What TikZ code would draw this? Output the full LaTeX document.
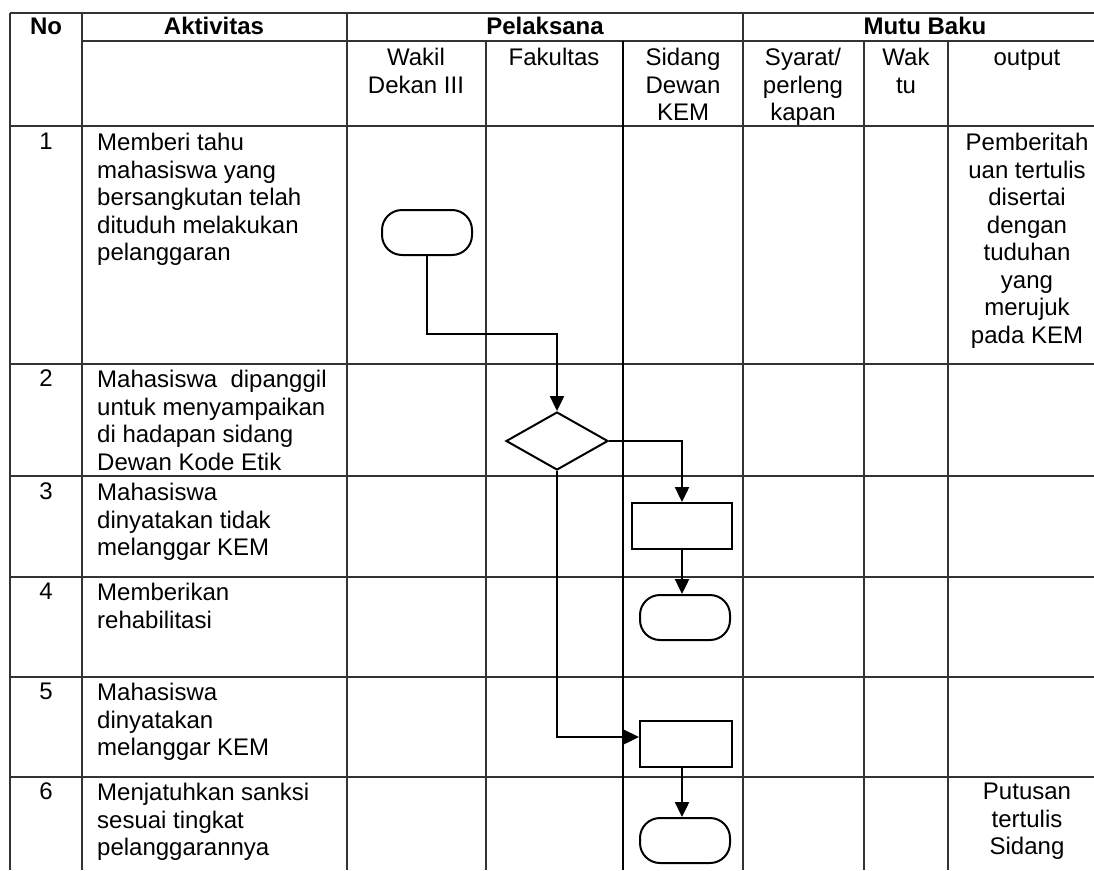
\documentclass[tikz,border=0pt]{standalone}
\usepackage{fontspec}
\setmainfont{Liberation Sans}
\usetikzlibrary{shapes.geometric,arrows.meta}

\newcommand{\isi}{\fontsize{24}{27.5}\selectfont}

\begin{document}
\begin{tikzpicture}[x=1pt, y=-1pt, font=\isi]

\tikzstyle{garis}=[line width=1.4pt, black!80]
\tikzstyle{teks}=[inner sep=0pt, anchor=north west, align=left]
\tikzstyle{tengah}=[inner sep=0pt, anchor=north, align=center]
\tikzstyle{judul}=[inner sep=0pt, anchor=base, font=\isi\bfseries]
\tikzstyle{terminal}=[draw, line width=2pt, rounded corners=20pt, minimum width=90pt, minimum height=45pt, inner sep=0pt]
\tikzstyle{proses}=[draw, line width=2pt, minimum width=100pt, minimum height=46pt, inner sep=0pt]
\tikzstyle{keputusan}=[draw, diamond, line width=2pt, minimum width=102pt, minimum height=58pt, inner sep=0pt]
\tikzstyle{alur}=[line width=2.4pt, -{Triangle[length=15pt,width=14pt]}]

\useasboundingbox (0,0) rectangle (1094,870);

% garis tabel
\draw[garis] (10,13) -- (1094,13);
\draw[garis] (82,41) -- (1094,41);
\foreach \y in {126,364,476,577,677,777}
  \draw[garis] (10,\y) -- (1094,\y);
\foreach \x in {10,82,347,743}
  \draw[garis] (\x,13) -- (\x,870);
\foreach \x in {486,864,948}
  \draw[garis] (\x,41) -- (\x,870);
\draw[garis, black, line width=1.8pt] (623,41) -- (623,870);

% kepala tabel
\node[judul] (hno) at (46,34) {No};
\node[judul] (hakt) at (214,34) {Aktivitas};
\node[judul] (hpel) at (545,34) {Pelaksana};
\node[judul] (hmutu) at (925,34) {Mutu Baku};

\node[tengah] (wadek) at (416,48) {Wakil\\Dekan III};
\node[tengah] (fak) at (554,48) {Fakultas};
\node[tengah] (sidang) at (683,48) {Sidang\\Dewan\\KEM};
\node[tengah] (syarat) at (803,48) {Syarat/\\perleng\\kapan};
\node[tengah] (waktu) at (906,48) {Wak\\tu};
\node[tengah, anchor=base] (output) at (1027,65.5) {output};

% nomor dan aktivitas
\foreach \n/\y in {1/133,2/370,3/483,4/583,5/683,6/783}
  \node[tengah] (no\n) at (46,\y) {\n};

\node[teks] (akt1) at (97,133) {Memberi tahu\\mahasiswa yang\\bersangkutan telah\\dituduh melakukan\\pelanggaran};
\node[teks] (akt2) at (97,370) {Mahasiswa~ dipanggil\\untuk menyampaikan\\di hadapan sidang\\Dewan Kode Etik};
\node[teks] (akt3) at (97,483) {Mahasiswa\\dinyatakan tidak\\melanggar KEM};
\node[teks] (akt4) at (97,583) {Memberikan\\rehabilitasi};
\node[teks] (akt5) at (97,683) {Mahasiswa\\dinyatakan\\melanggar KEM};
\node[teks] (akt6) at (97,783) {Menjatuhkan sanksi\\sesuai tingkat\\pelanggarannya};

\node[tengah] (out1) at (1027,133) {Pemberitah\\uan tertulis\\disertai\\dengan\\tuduhan\\yang\\merujuk\\pada KEM};
\node[tengah] (out6) at (1027,783) {Putusan\\tertulis\\Sidang};

% bagan alir
\node[terminal] (t1) at (427,232.5) {};
\node[keputusan] (d1) at (557,441) {};
\node[proses] (r1) at (682,526) {};
\node[terminal] (t2) at (685,617.5) {};
\node[proses, minimum width=92pt] (r2) at (686,744) {};
\node[terminal] (t3) at (685,840.5) {};

\draw[alur] (t1.south) -- ++(0,78) -| (d1.north);
\draw[alur] (d1.east) -| (r1.north);
\draw[alur] (r1.south) -- (r1.south |- t2.north);
\draw[alur] (d1.south) |- ([yshift=7pt]r2.west);
\draw[alur] (r1.south |- r2.south) -- (r1.south |- t3.north);

\end{tikzpicture}
\end{document}
